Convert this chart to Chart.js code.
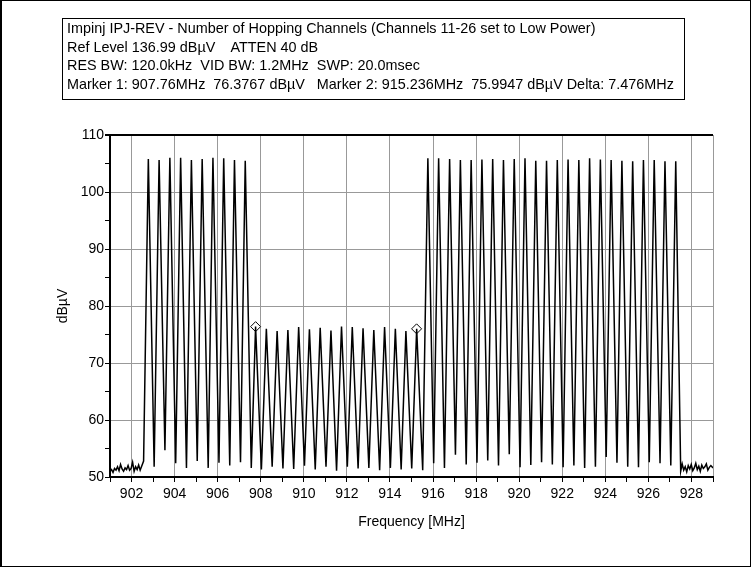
<!DOCTYPE html>
<html>
<head>
<meta charset="utf-8">
<script src="https://cdn.jsdelivr.net/npm/chart.js@4"></script>
<style>
  body { margin: 0; background: #fff; }
  #wrap { position: relative; width: 751px; height: 567px; }
  #frame { position: absolute; left: 0; top: 0; width: 748px; height: 565px;
           border: 1px solid #000; border-left: 2px solid #000; pointer-events: none; }
  #header { position: absolute; left: 62px; top: 18px; width: 617px; height: 80px;
            border: 1px solid #000; font: 14.4px "Liberation Sans Narrow", "Liberation Sans", sans-serif;
            line-height: 18.7px; white-space: pre; padding-left: 4px; color: #000; }
</style>
</head>
<body>
<div id="wrap">
  <canvas id="chart" width="751" height="567"></canvas>
  <div id="header">Impinj IPJ-REV - Number of Hopping Channels (Channels 11-26 set to Low Power)
Ref Level 136.99 dBµV    ATTEN 40 dB
RES BW: 120.0kHz  VID BW: 1.2MHz  SWP: 20.0msec
Marker 1: 907.76MHz  76.3767 dBµV   Marker 2: 915.236MHz  75.9947 dBµV Delta: 7.476MHz</div>
  <div id="frame"></div>
</div>
<script>
// noise floor below the band
var noiseLeftFreq = [901.00, 901.07, 901.14, 901.21, 901.28, 901.35, 901.42, 901.49, 901.56, 901.63, 901.70, 901.77,
                     901.84, 901.91, 901.98, 902.05, 902.12, 902.19, 902.26, 902.33, 902.40, 902.47, 902.56];
var noiseLeftVal  = [51.0, 51.3, 50.8, 51.5, 51.2, 51.8, 51.1, 52.2, 51.4, 51.0, 51.6, 51.3,
                     52.0, 51.2, 51.5, 52.6, 51.0, 51.8, 51.3, 52.1, 51.2, 51.9, 52.8];

// hopping channel peaks (50 channels)
var chFreq = [902.78, 903.28, 903.78, 904.28, 904.78, 905.28, 905.78, 906.28, 906.78, 907.28,
              907.76, 908.26, 908.76, 909.26, 909.76, 910.26, 910.76, 911.26, 911.75, 912.25,
              912.75, 913.25, 913.75, 914.25, 914.74, 915.24,
              915.76, 916.26, 916.77, 917.27, 917.77, 918.27, 918.77, 919.27, 919.77, 920.27,
              920.77, 921.27, 921.77, 922.27, 922.77, 923.27, 923.77, 924.27, 924.77, 925.27,
              925.77, 926.27, 926.77, 927.27];
var chPeak = [105.8, 105.6, 106.0, 106.0, 105.6, 105.8, 106.0, 105.9, 105.6, 105.5,
              76.38, 76.0, 75.6, 75.8, 76.3, 75.9, 76.2, 75.7, 76.4, 76.3,
              76.1, 75.8, 76.3, 76.0, 75.6, 75.99,
              105.9, 105.9, 105.8, 105.6, 105.6, 105.7, 105.8, 105.6, 105.8, 105.9,
              105.5, 105.5, 105.6, 105.7, 105.6, 105.9, 105.7, 105.6, 105.5, 105.4,
              105.6, 105.6, 105.4, 105.4];

// dips between neighbouring channels (49)
var dipFreq = [903.05, 903.55, 904.05, 904.55, 905.05, 905.56, 906.06, 906.56, 907.06, 907.56,
               908.03, 908.53, 909.03, 909.53, 910.03, 910.53, 911.03, 911.52, 912.02, 912.52,
               913.02, 913.52, 914.02, 914.52, 915.01, 915.52,
               916.03, 916.53, 917.04, 917.54, 918.04, 918.54, 919.04, 919.54, 920.04, 920.54,
               921.04, 921.54, 922.04, 922.54, 923.04, 923.54, 924.04, 924.54, 925.04, 925.54,
               926.04, 926.54, 927.04];
var dipVal = [51.8, 54.7, 52.4, 51.6, 52.8, 51.6, 52.5, 52.0, 52.6, 51.6,
              51.3, 51.8, 51.5, 51.4, 52.0, 51.3, 51.8, 51.1, 51.8, 51.5,
              51.6, 51.2, 51.6, 51.3, 51.5, 51.2,
              52.4, 51.6, 53.9, 52.2, 52.5, 52.9, 52.0, 54.0, 51.7, 52.1,
              52.6, 52.2, 51.7, 52.0, 51.6, 51.8, 53.5, 52.5, 51.8, 51.7,
              52.6, 52.4, 52.0];

// noise floor above the band
var noiseRightFreq = [927.50, 927.57, 927.64, 927.71, 927.78, 927.85, 927.92, 927.99, 928.06, 928.13, 928.20,
                      928.27, 928.34, 928.41, 928.48, 928.55, 928.62, 928.69, 928.76, 928.83, 928.90, 929.00];
var noiseRightVal  = [51.0, 52.3, 51.2, 51.8, 50.9, 52.0, 51.4, 52.2, 51.1, 51.6, 52.4,
                      51.3, 51.9, 51.0, 52.1, 51.5, 51.8, 52.3, 51.2, 51.7, 52.0, 51.6];

// markers
var markerFreq = [907.76, 915.236];
var markerVal = [76.3767, 75.9947];

var trace = [];
noiseLeftFreq.forEach(function (f, i) { trace.push({ x: f, y: noiseLeftVal[i] }); });
chFreq.forEach(function (f, i) {
  trace.push({ x: f, y: chPeak[i] });
  if (i < dipFreq.length) trace.push({ x: dipFreq[i], y: dipVal[i] });
});
noiseRightFreq.forEach(function (f, i) { trace.push({ x: f, y: noiseRightVal[i] }); });

var markers = markerFreq.map(function (f, i) { return { x: f, y: markerVal[i] }; });

var tickFont = { family: '"Liberation Sans Narrow", "Liberation Sans", sans-serif', size: 14 };

const config = {
  type: 'line',
  data: {
    datasets: [
      {
        data: trace,
        borderColor: '#000',
        borderWidth: 1.5,
        pointRadius: 0,
        tension: 0,
        fill: false,
      },
      {
        data: markers,
        showLine: false,
        pointStyle: 'rectRot',
        pointRadius: 5,
        pointBackgroundColor: '#fff',
        pointBorderColor: '#000',
        pointBorderWidth: 1,
      },
    ],
  },
  options: {
    responsive: false,
    animation: false,
    layout: { padding: { left: 0, top: 135, right: 38, bottom: 0 } },
    plugins: {
      legend: { display: false },
      tooltip: { enabled: false },
    },
    scales: {
      x: {
        type: 'linear',
        min: 901,
        max: 929,
        afterFit: function (scale) { scale.height = 90; },
        border: { color: '#000', width: 2 },
        grid: {
          color: function (ctx) {
            var v = ctx.tick && ctx.tick.value;
            return (v % 2 === 0 || v === 929) ? '#999' : 'rgba(0,0,0,0)';
          },
          tickColor: '#000',
          tickLength: 5,
        },
        ticks: {
          stepSize: 1,
          autoSkip: false,
          maxRotation: 0,
          padding: 4,
          color: '#000',
          font: tickFont,
          callback: function (v) { return v % 2 === 0 ? v : ''; },
        },
        title: {
          display: true,
          text: 'Frequency [MHz]',
          color: '#000',
          font: tickFont,
          padding: { top: 0, bottom: 36 },
        },
      },
      y: {
        min: 50,
        max: 110,
        afterFit: function (scale) { scale.width = 110; },
        border: { color: '#000', width: 2 },
        grid: {
          color: function (ctx) {
            var v = ctx.tick && ctx.tick.value;
            if (v === 110) return '#000';
            return v % 10 === 0 ? '#999' : 'rgba(0,0,0,0)';
          },
          lineWidth: function (ctx) { return ctx.tick && ctx.tick.value === 110 ? 2 : 1; },
          tickColor: '#000',
          tickLength: 5,
        },
        ticks: {
          stepSize: 5,
          padding: 1,
          color: '#000',
          font: tickFont,
          callback: function (v) { return v % 10 === 0 ? v : ''; },
        },
        title: {
          display: true,
          text: 'dBµV',
          color: '#000',
          font: tickFont,
          padding: { top: 55, bottom: 0 },
        },
      },
    },
  },
};

var myChart = new Chart(document.getElementById('chart'), config);
</script>
</body>
</html>
